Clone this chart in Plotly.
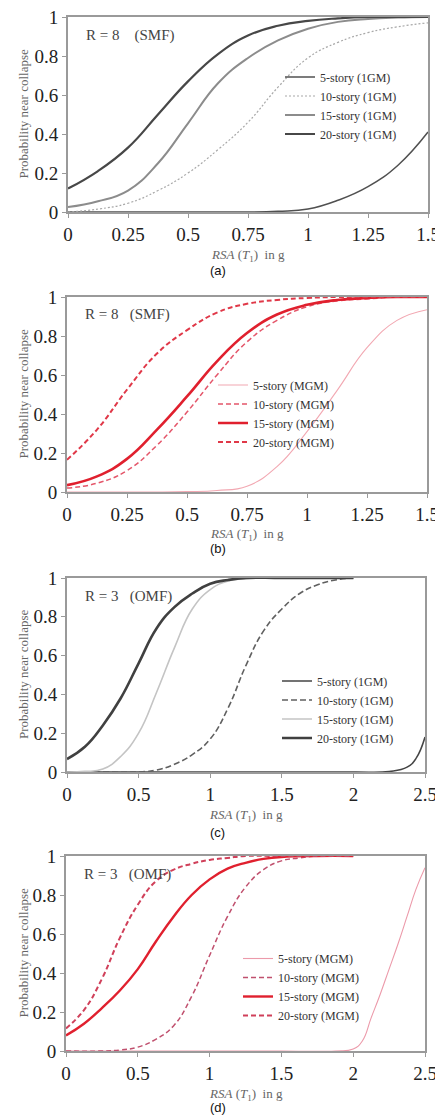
import plotly.graph_objects as go

# ---------------- data ----------------
x_ab = [0, 0.125, 0.25, 0.375, 0.5, 0.625, 0.75, 0.875, 1.0, 1.125, 1.25, 1.375, 1.5]

a_5 = [0, 0, 0, 0, 0, 0, 0.0, 0.004, 0.015, 0.06, 0.13, 0.24, 0.41]
a_10 = [0.0, 0.015, 0.045, 0.11, 0.20, 0.32, 0.46, 0.64, 0.79, 0.87, 0.92, 0.95, 0.97]
a_15 = [0.025, 0.055, 0.11, 0.25, 0.455, 0.66, 0.79, 0.88, 0.94, 0.975, 0.99, 0.997, 1.0]
a_20 = [0.12, 0.21, 0.33, 0.50, 0.67, 0.81, 0.905, 0.955, 0.98, 0.993, 1.0, 1.0, 1.0]

b_5 = [0, 0, 0, 0, 0.002, 0.008, 0.03, 0.13, 0.31, 0.52, 0.74, 0.88, 0.935]
b_10 = [0.02, 0.045, 0.11, 0.24, 0.41, 0.60, 0.77, 0.88, 0.95, 0.98, 0.99, 1.0, 1.0]
b_15 = [0.035, 0.08, 0.17, 0.32, 0.49, 0.67, 0.815, 0.91, 0.96, 0.985, 0.995, 1.0, 1.0]
b_20 = [0.165, 0.32, 0.525, 0.71, 0.83, 0.92, 0.965, 0.985, 0.995, 1.0, 1.0, 1.0, 1.0]

c_5_x = [0, 0.5, 1.0, 1.5, 2.0, 2.25, 2.375, 2.4375, 2.5]
c_5 = [0, 0, 0, 0, 0, 0.003, 0.025, 0.07, 0.18]
c_10_x = [0, 0.25, 0.5, 0.625, 0.75, 0.875, 1.0, 1.125, 1.25, 1.375, 1.5, 1.625, 1.75, 1.875, 2.0]
c_10 = [0, 0, 0.0, 0.01, 0.04, 0.09, 0.17, 0.33, 0.55, 0.73, 0.84, 0.92, 0.965, 0.99, 1.0]
c_15_x = [0, 0.125, 0.25, 0.375, 0.5, 0.625, 0.75, 0.875, 1.0, 1.125, 1.25, 1.375, 1.5, 2.0]
c_15 = [0.0, 0.003, 0.015, 0.08, 0.2, 0.41, 0.64, 0.84, 0.94, 0.985, 0.997, 1.0, 1.0, 1.0]
c_20_x = [0, 0.125, 0.25, 0.375, 0.5, 0.625, 0.75, 0.875, 1.0, 1.125, 1.25, 1.5, 2.0]
c_20 = [0.067, 0.13, 0.24, 0.38, 0.56, 0.74, 0.85, 0.92, 0.97, 0.99, 1.0, 1.0, 1.0]

d_5_x = [0, 0.5, 1.0, 1.5, 1.875, 2.0, 2.0625, 2.125, 2.1875, 2.25, 2.3125, 2.375, 2.4375, 2.5]
d_5 = [0, 0, 0, 0, 0, 0.01, 0.05, 0.17, 0.29, 0.42, 0.55, 0.69, 0.83, 0.94]
d_10_x = [0, 0.25, 0.375, 0.5, 0.625, 0.75, 0.875, 1.0, 1.125, 1.25, 1.375, 1.5, 1.625, 1.75, 2.0]
d_10 = [0, 0.0, 0.005, 0.02, 0.06, 0.13, 0.28, 0.49, 0.69, 0.84, 0.93, 0.975, 0.99, 1.0, 1.0]
d_15_x = [0, 0.125, 0.25, 0.375, 0.5, 0.625, 0.75, 0.875, 1.0, 1.125, 1.25, 1.375, 1.5, 1.75, 2.0]
d_15 = [0.08, 0.14, 0.22, 0.31, 0.42, 0.56, 0.69, 0.80, 0.88, 0.935, 0.965, 0.985, 0.995, 1.0, 1.0]
d_20_x = [0, 0.125, 0.25, 0.375, 0.5, 0.625, 0.75, 0.875, 1.0, 1.125, 1.25, 1.5, 2.0]
d_20 = [0.116, 0.21, 0.37, 0.58, 0.75, 0.87, 0.93, 0.96, 0.98, 0.99, 1.0, 1.0, 1.0]

ticks_ab = [0, 0.25, 0.5, 0.75, 1, 1.25, 1.5]
ticktext_ab = ["0", "0.25", "0.5", "0.75", "1", "1.25", "1.5"]
ticks_cd = [0, 0.5, 1, 1.5, 2, 2.5]
ticktext_cd = ["0", "0.5", "1", "1.5", "2", "2.5"]
ticks_y = [0, 0.2, 0.4, 0.6, 0.8, 1]
ticktext_y = ["0", "0.2", "0.4", "0.6", "0.8", "1"]

names_1gm = ["5-story (1GM)", "10-story (1GM)", "15-story (1GM)", "20-story (1GM)"]
names_mgm = ["5-story (MGM)", "10-story (MGM)", "15-story (MGM)", "20-story (MGM)"]
panel_titles = ["R = 8 &nbsp;&nbsp;&nbsp;(SMF)", "R = 8 &nbsp;&nbsp;(SMF)",
                "R = 3 &nbsp;&nbsp;(OMF)", "R = 3 &nbsp;&nbsp;(OMF)"]
panel_labels = ["(a)", "(b)", "(c)", "(d)"]

# ---------------- layout geometry (pixels) ----------------
W, H = 435, 1116
plot_boxes = [  # x0, x1, ytop, ybottom in px
    (68, 428, 17, 212),
    (67, 427, 297, 492),
    (67, 425, 578, 772),
    (66, 425, 856, 1051),
]
legend_pos = [(280, 105.5), (213, 413.5), (277, 709.5), (238, 987)]
label_y = [270, 548, 832, 1107]

SERIF = "Liberation Serif"
SANS = "Liberation Sans"

fig = go.Figure()

styles = [
    # panel a
    [dict(color="#505050", width=1.5, dash="solid"),
     dict(color="#a8a8a8", width=1.2, dash="2px,2px"),
     dict(color="#8c8c8c", width=2, dash="solid"),
     dict(color="#474747", width=2.2, dash="solid")],
    # panel b
    [dict(color="#f2a8b2", width=1.1, dash="solid"),
     dict(color="#e4566a", width=1.5, dash="5px,3px"),
     dict(color="#e0202e", width=2.6, dash="solid"),
     dict(color="#e03848", width=2, dash="5px,3px")],
    # panel c
    [dict(color="#454545", width=1.5, dash="solid"),
     dict(color="#606060", width=1.6, dash="6px,3px"),
     dict(color="#c4c4c4", width=1.6, dash="solid"),
     dict(color="#404040", width=2.6, dash="solid")],
    # panel d
    [dict(color="#ec9aaa", width=1.1, dash="solid"),
     dict(color="#c0506e", width=1.5, dash="5px,3px"),
     dict(color="#e0202e", width=2.4, dash="solid"),
     dict(color="#d0405a", width=2, dash="5px,3px")],
]

series = [
    [(x_ab, a_5), (x_ab, a_10), (x_ab, a_15), (x_ab, a_20)],
    [(x_ab, b_5), (x_ab, b_10), (x_ab, b_15), (x_ab, b_20)],
    [(c_5_x, c_5), (c_10_x, c_10), (c_15_x, c_15), (c_20_x, c_20)],
    [(d_5_x, d_5), (d_10_x, d_10), (d_15_x, d_15), (d_20_x, d_20)],
]
names = [names_1gm, names_mgm, names_1gm, names_mgm]

for p in range(4):
    sfx = "" if p == 0 else str(p + 1)
    leg = "legend" if p == 0 else f"legend{p + 1}"
    for k in range(4):
        xs, ys = series[p][k]
        fig.add_trace(go.Scatter(
            x=xs, y=ys, mode="lines", name=names[p][k],
            line=dict(shape="spline", smoothing=1.3, **styles[p][k]),
            xaxis="x" + sfx, yaxis="y" + sfx, legend=leg,
            hoverinfo="skip",
        ))

layout = dict(
    width=W, height=H, margin=dict(l=0, r=0, t=0, b=0, autoexpand=False),
    paper_bgcolor="white", plot_bgcolor="white", showlegend=True,
)

axis_common = dict(
    showgrid=False, zeroline=False, showline=True, mirror=True,
    linecolor="#9a9a9a", linewidth=2, ticks="outside", ticklen=4,
    tickcolor="#9a9a9a", tickwidth=1, automargin=False,
    ticklabeloverflow="allow",
    tickfont=dict(family=SERIF, size=19, color="#222"),
)

annotations = []
for p in range(4):
    x0, x1, yt, yb = plot_boxes[p]
    sfx = "" if p == 0 else str(p + 1)
    xr = [0, 1.5] if p < 2 else [0, 2.5]
    layout["xaxis" + sfx] = dict(
        axis_common, domain=[x0 / W, x1 / W], range=xr, anchor="y" + sfx,
        tickvals=ticks_ab if p < 2 else ticks_cd,
        ticktext=ticktext_ab if p < 2 else ticktext_cd,
    )
    layout["yaxis" + sfx] = dict(
        axis_common, domain=[1 - yb / H, 1 - yt / H], range=[0, 1],
        anchor="x" + sfx, tickvals=ticks_y, ticktext=ticktext_y,
    )
    lx, ly = legend_pos[p]
    layout["legend" if p == 0 else f"legend{p + 1}"] = dict(
        x=lx / W, y=1 - ly / H, xanchor="left", yanchor="middle",
        bgcolor="rgba(0,0,0,0)", borderwidth=0, itemwidth=30,
        font=dict(family=SERIF, size=12, color="#333"), tracegroupgap=0,
    )
    # panel text
    annotations.append(dict(
        text=panel_titles[p], xref="paper", yref="paper",
        x=(x0 + 16) / W, y=1 - (yt + 18) / H, xanchor="left", yanchor="middle",
        showarrow=False, font=dict(family=SERIF, size=15, color="#444"),
    ))
    annotations.append(dict(
        text="Probability near collapse", xref="paper", yref="paper",
        x=23 / W, y=1 - ((yt + yb) / 2) / H, xanchor="center", yanchor="middle",
        textangle=-90, showarrow=False,
        font=dict(family=SERIF, size=13, color="#666"),
    ))
    annotations.append(dict(
        text="<i>RSA</i> (<i>T</i><sub>1</sub>) &nbsp;in g", xref="paper", yref="paper",
        x=((x0 + x1) / 2) / W, y=1 - (yb + 43) / H, xanchor="center", yanchor="middle",
        showarrow=False, font=dict(family=SERIF, size=13, color="#666"),
    ))
    annotations.append(dict(
        text=panel_labels[p], xref="paper", yref="paper",
        x=218 / W, y=1 - label_y[p] / H, xanchor="center", yanchor="middle",
        showarrow=False, font=dict(family=SANS, size=13, color="#111"),
    ))

layout["annotations"] = annotations
fig.update_layout(**layout)
fig.write_html(
    "out.html",
    config={"displayModeBar": False},
    post_script="document.body.style.margin='0';document.body.style.overflow='hidden';",
)
